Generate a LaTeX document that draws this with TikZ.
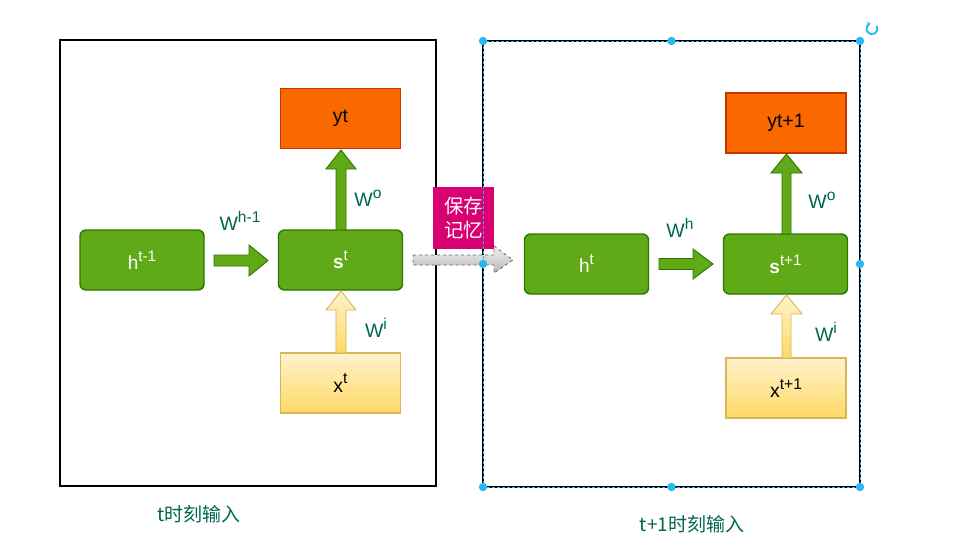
\documentclass[tikz,border=0pt]{standalone}
\usepackage{fontspec}
\usepackage{graphicx}
\setmainfont{Liberation Sans}
\newfontfamily\cjk{Noto Sans CJK SC}
\usetikzlibrary{arrows.meta}
\newcommand\supr[1]{\raisebox{0.42em}{\scalebox{0.8}{#1}}}
\definecolor{gfill}{HTML}{60A917}
\definecolor{gline}{HTML}{2D7600}
\definecolor{ofill}{HTML}{FA6800}
\definecolor{oline}{HTML}{C73500}
\definecolor{ytop}{HTML}{FFF2CC}
\definecolor{ybot}{HTML}{FFD966}
\definecolor{yline}{HTML}{D6B656}
\definecolor{pinkc}{HTML}{D80073}
\definecolor{wtxt}{HTML}{006650}
\definecolor{selc}{HTML}{29B6F2}
\definecolor{grayl}{HTML}{666666}
\begin{document}
\begin{tikzpicture}[x=1pt,y=-1pt,
  gbox/.style={draw=gline, fill=gfill, rounded corners=6pt, line width=1.4pt,
    minimum width=124pt, minimum height=60pt, text=white, inner sep=0pt,
    font=\fontsize{19}{21}\selectfont},
  obox/.style={draw=oline, fill=ofill, line width=1.6pt, minimum width=120pt,
    minimum height=60pt, inner sep=0pt, font=\fontsize{19.5}{21}\selectfont},
  ybox/.style={draw=yline, top color=ytop, bottom color=ybot, line width=1.6pt,
    minimum width=120pt, minimum height=60pt, inner sep=0pt,
    font=\fontsize{19.5}{21}\selectfont},
  garrow/.style={draw=gline, fill=gfill, line width=0.9pt},
  yarrow/.style={draw=yline, top color=ytop, bottom color=ybot, line width=0.9pt},
  wlab/.style={text=wtxt, font=\fontsize{19.5}{21}\selectfont, inner sep=0pt},
  clab/.style={text=wtxt, font=\cjk\fontsize{19}{22}\selectfont, inner sep=0pt},
  handle/.style={fill=selc, draw=none}
]
\useasboundingbox (0,0) rectangle (958,557);
\fill[white] (0,0) rectangle (958,557);

% frames
\draw[line width=1.3pt] (60,40) rectangle (436,486);
\draw[line width=1.3pt] (483,41) rectangle (860,487);

% left group
\node[gbox] (h1) at (142,260) {h\supr{t-1}};
\node[gbox] (s1) at (340.5,260) {\textbf{s}\supr{t}};
\node[obox] (y1) at (340.5,118.5) {yt};
\node[ybox] (x1) at (340.5,383) {x\supr{t}};

\draw[garrow] (214,255) -- (249,255) -- (249,245) -- (268,260.5) -- (249,276) -- (249,266) -- (214,266) -- cycle;
\draw[garrow] (336,230) -- (336,169) -- (326,169) -- (341,150) -- (356,169) -- (346,169) -- (346,230) -- cycle;
\draw[yarrow] (336,353) -- (336,310) -- (326,310) -- (341,291) -- (356,310) -- (346,310) -- (346,353) -- cycle;

\node[wlab] (wh1) at (240,221) {W\supr{h-1}};
\node[wlab] (wo1) at (368,198) {W\supr{o}};
\node[wlab] (wi1) at (376,328) {W\supr{i}};

% right group
\node[gbox] (h2) at (586.5,264) {h\supr{t}};
\node[gbox] (s2) at (785.5,264) {\textbf{s}\supr{t+1}};
\node[obox] (y2) at (786,123) {yt+1};
\node[ybox] (x2) at (786,388) {x\supr{t+1}};

\draw[garrow] (659,258.5) -- (693,258.5) -- (693,249) -- (713,264) -- (693,279) -- (693,269.5) -- (659,269.5) -- cycle;
\draw[garrow] (782,234) -- (782,173) -- (771,173) -- (786.5,154) -- (802,173) -- (791,173) -- (791,234) -- cycle;
\draw[yarrow] (782,358) -- (782,314) -- (771,314) -- (786.5,295) -- (802,314) -- (791,314) -- (791,358) -- cycle;

\node[wlab] (wh2) at (680,228) {W\supr{h}};
\node[wlab] (wo2) at (822,200) {W\supr{o}};
\node[wlab] (wi2) at (826,332) {W\supr{i}};

% memory transfer
\draw[draw=grayl, dashed, top color=black!6, bottom color=black!28, line width=0.8pt]
  (413,255) -- (494,255) -- (494,246) -- (513,260) -- (494,273) -- (494,265) -- (413,265) -- cycle;
\node[fill=pinkc, minimum width=61pt, minimum height=62pt, inner sep=0pt, text=white,
  align=center, font=\cjk\fontsize{19.5}{24}\selectfont] (mem) at (463.5,218) {保存\\记忆};

% captions
\node[clab] (c1) at (199,514) {t时刻输入};
\node[clab] (c2) at (692,524) {t+1时刻输入};

% selection overlay
\draw[selc, line width=0.9pt, dash pattern=on 3pt off 2pt] (483,41) rectangle (860,487);
\foreach \p in {(483,41),(671.5,41),(860,41),(483,264),(860,264),(483,487),(671.5,487),(860,487)}
  \fill[handle] \p circle (4.2);
\draw[selc, line width=1.8pt, -{Stealth[length=3.5pt,width=5.5pt]}] (876.8,26) arc[start angle=-30, end angle=255, radius=5.5];
\end{tikzpicture}
\end{document}
